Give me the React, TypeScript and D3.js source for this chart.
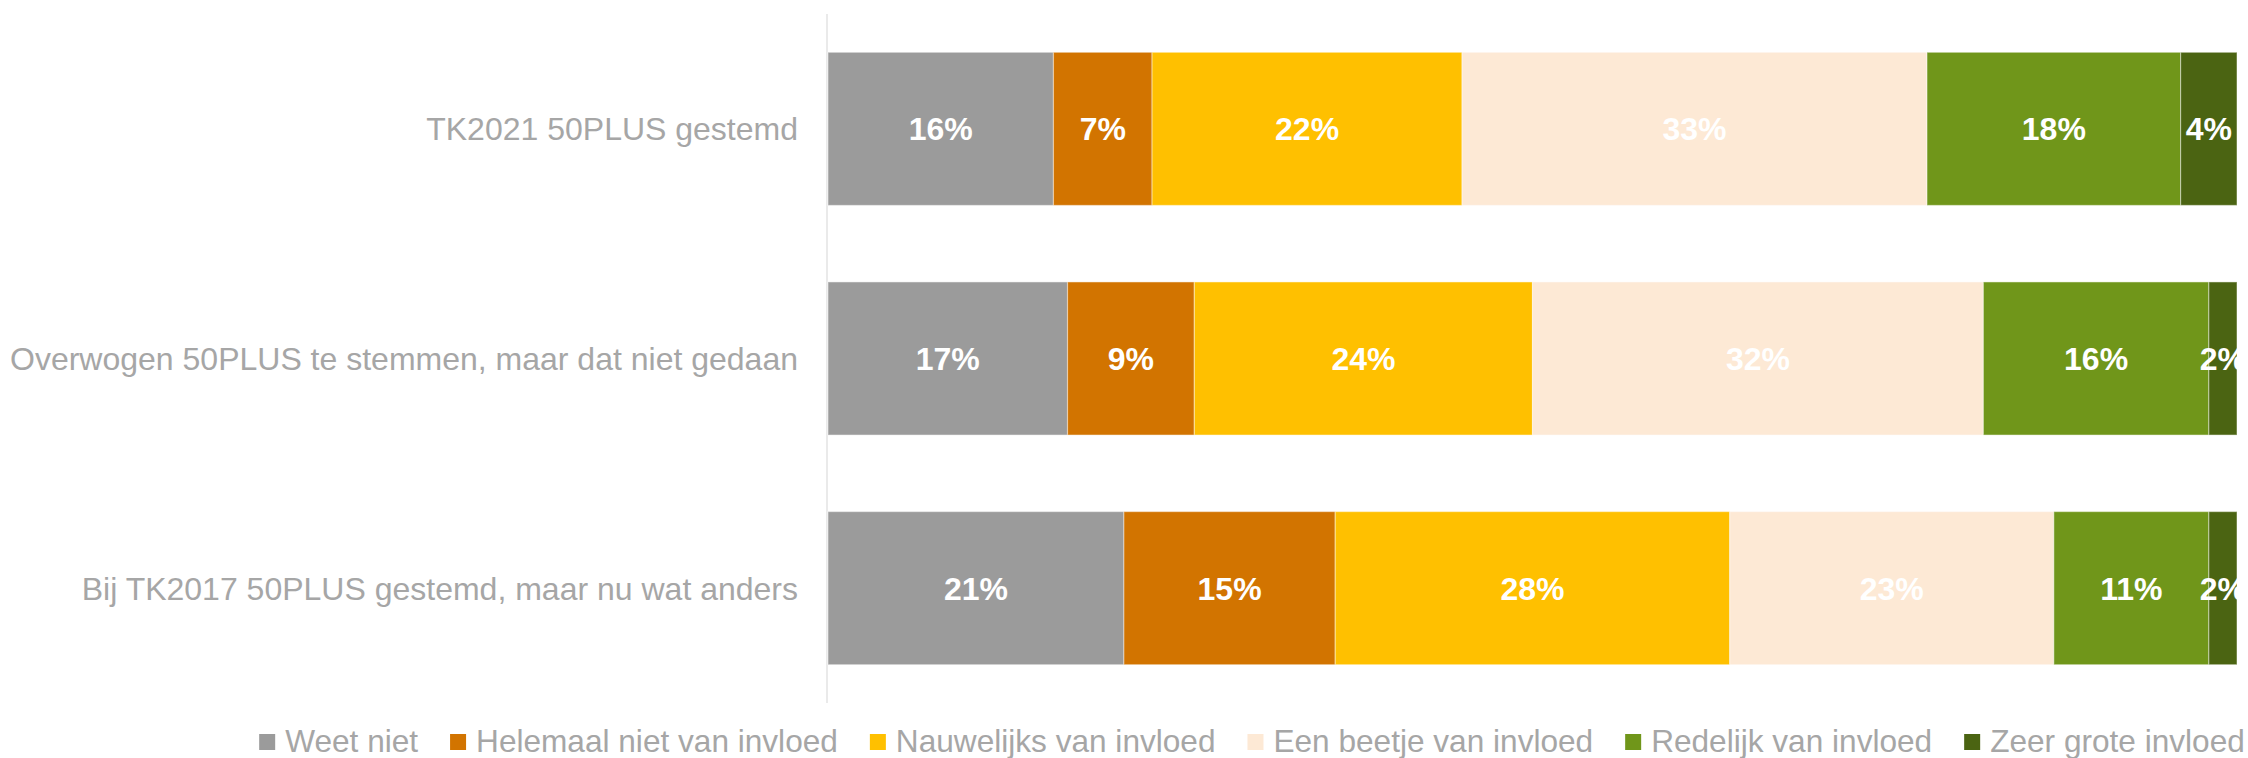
import React, { useEffect, useRef } from "react";
import * as d3 from "d3";

const categories = [
  "TK2021 50PLUS gestemd",
  "Overwogen 50PLUS te stemmen, maar dat niet gedaan",
  "Bij TK2017 50PLUS gestemd, maar nu wat anders",
];
const seriesNames = [
  "Weet niet",
  "Helemaal niet van invloed",
  "Nauwelijks van invloed",
  "Een beetje van invloed",
  "Redelijk van invloed",
  "Zeer grote invloed",
];
const weetNiet = [16, 17, 21];
const helemaalNiet = [7, 9, 15];
const nauwelijks = [22, 24, 28];
const eenBeetje = [33, 32, 23];
const redelijk = [18, 16, 11];
const zeerGroot = [4, 2, 2];
const seriesValues = [weetNiet, helemaalNiet, nauwelijks, eenBeetje, redelijk, zeerGroot];
const seriesColors = ["#9B9B9B", "#D27400", "#FFC000", "#FDE9D5", "#70961A", "#4B6412"];

const W = 2248;
const H = 758;
const FONT = "'Liberation Sans', Arial, sans-serif";

export default function App() {
  const ref = useRef<SVGSVGElement | null>(null);

  useEffect(() => {
    const svg = d3.select(ref.current);
    svg.selectAll("*").remove();

    const x = d3.scaleLinear().domain([0, 100]).range([828, 2237]);
    const y = d3
      .scaleBand<string>()
      .domain(categories)
      .range([14, 703])
      .paddingInner(0.3333)
      .paddingOuter(0.1667);

    svg
      .append("defs")
      .append("clipPath")
      .attr("id", "plotClip")
      .append("rect")
      .attr("x", x(0))
      .attr("y", 0)
      .attr("width", x(100) - x(0))
      .attr("height", H);

    // axis line
    svg
      .append("line")
      .attr("x1", x(0) - 1)
      .attr("x2", x(0) - 1)
      .attr("y1", y.range()[0])
      .attr("y2", y.range()[1])
      .attr("stroke", "#EAEAEA")
      .attr("stroke-width", 2);

    // stacked segments
    const rows = categories.map((c, i) => {
      let acc = 0;
      return seriesValues.map((vals, s) => {
        const seg = { cat: c, s, v: vals[i], x0: acc, x1: acc + vals[i] };
        acc += vals[i];
        return seg;
      });
    });
    const segs = rows.flat();

    const gBars = svg.append("g");
    gBars
      .selectAll("rect")
      .data(segs)
      .join("rect")
      .attr("x", (d) => x(d.x0))
      .attr("y", (d) => y(d.cat)!)
      .attr("width", (d) => x(d.x1) - x(d.x0))
      .attr("height", y.bandwidth())
      .attr("fill", (d) => seriesColors[d.s])
      .attr("stroke", "rgba(255,255,255,0.4)")
      .attr("stroke-width", 1.2);

    const gLab = svg.append("g").attr("clip-path", "url(#plotClip)");
    gLab
      .selectAll("text")
      .data(segs)
      .join("text")
      .attr("x", (d) => (x(d.x0) + x(d.x1)) / 2)
      .attr("y", (d) => y(d.cat)! + y.bandwidth() / 2)
      .attr("dy", "0.36em")
      .attr("text-anchor", "middle")
      .attr("font-family", FONT)
      .attr("font-weight", "bold")
      .attr("font-size", 32)
      .attr("fill", "#FFFFFF")
      .text((d) => `${d.v}%`);

    // category labels
    svg
      .append("g")
      .selectAll("text")
      .data(categories)
      .join("text")
      .attr("x", x(0) - 30)
      .attr("y", (d) => y(d)! + y.bandwidth() / 2)
      .attr("dy", "0.36em")
      .attr("text-anchor", "end")
      .attr("font-family", FONT)
      .attr("font-size", 32)
      .attr("fill", "#A6A6A6")
      .text((d) => d);

    // legend
    const gLeg = svg.append("g");
    const sq = 16;
    const gapSqText = 10;
    const gapItem = 32;
    const items = seriesNames.map((name, i) => {
      const g = gLeg.append("g");
      g.append("rect")
        .attr("x", 0)
        .attr("y", 734)
        .attr("width", sq)
        .attr("height", sq)
        .attr("fill", seriesColors[i]);
      const t = g
        .append("text")
        .attr("x", sq + gapSqText)
        .attr("y", 752)
        .attr("font-family", FONT)
        .attr("font-size", 31.6)
        .attr("fill", "#A6A6A6")
        .text(name);
      const w = (t.node() as SVGTextElement).getComputedTextLength();
      return { g, w: sq + gapSqText + w };
    });
    const total = d3.sum(items, (d) => d.w) + gapItem * (items.length - 1);
    let cx = (267 + 2237) / 2 - total / 2;
    items.forEach((it) => {
      it.g.attr("transform", `translate(${cx},0)`);
      cx += it.w + gapItem;
    });
  }, []);

  return (
    <svg
      ref={ref}
      width={W}
      height={H}
      style={{ position: "absolute", left: 0, top: 0, background: "#FFFFFF" }}
    />
  );
}
